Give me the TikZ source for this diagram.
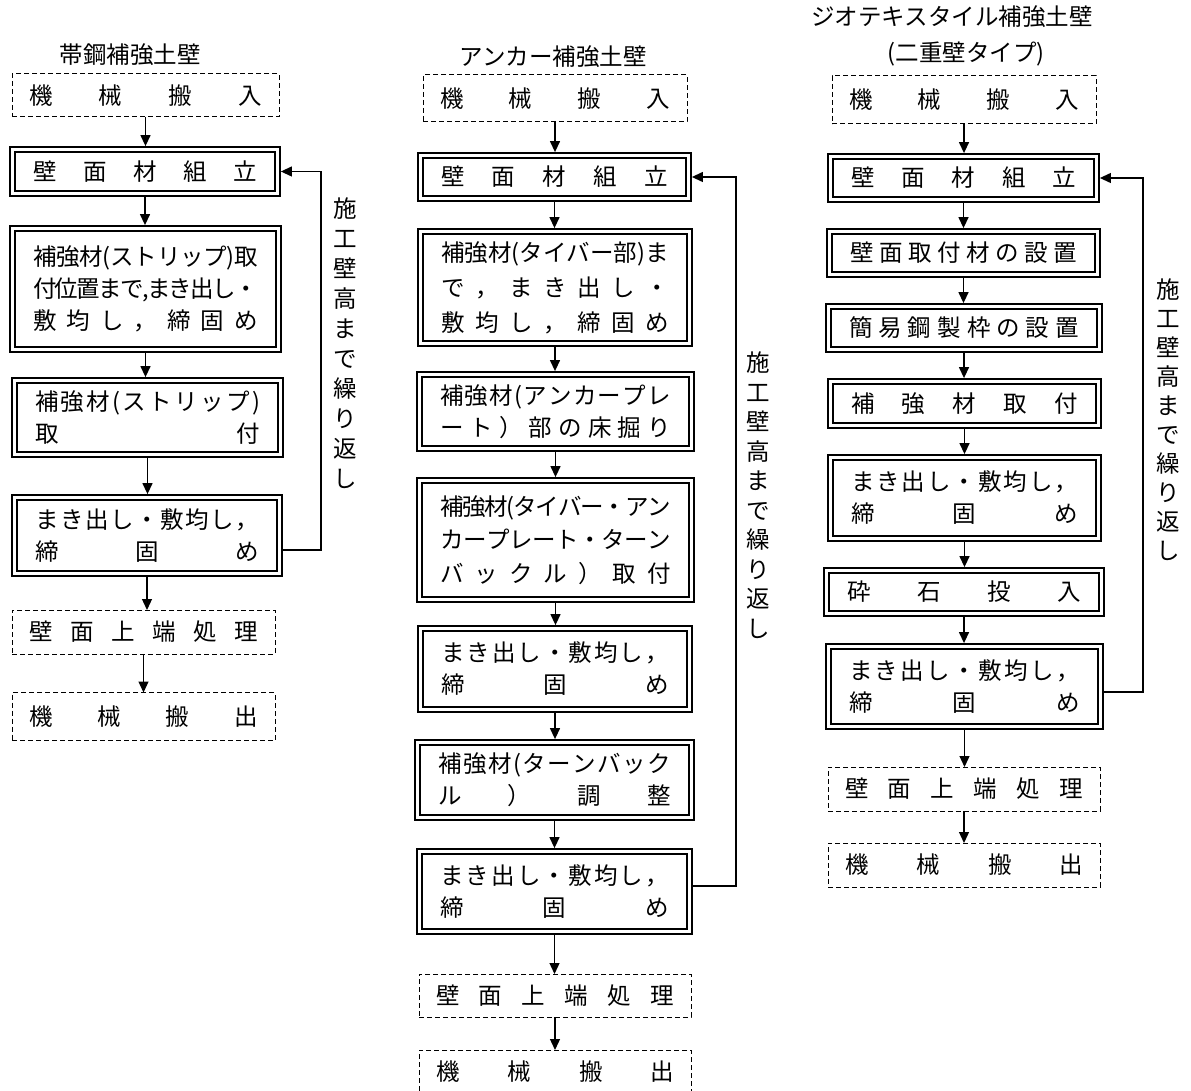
\documentclass[tikz,border=0pt]{standalone}
\usepackage{fontspec}
\setmainfont{Noto Sans CJK JP}
\usetikzlibrary{arrows.meta,calc}
\ExplSyntaxOn
\NewDocumentCommand \SL { m m }
  {
    \hbox_to_wd:nn { #1 }
      {
        \bool_set_true:N \l_tmpa_bool
        \tl_map_inline:nn { #2 }
          {
            \bool_if:NF \l_tmpa_bool { \hskip 0pt plus 1fil minus 3pt }
            \bool_set_false:N \l_tmpa_bool
            ##1
          }
      }
  }
\ExplSyntaxOff
\tikzset{
  dbox/.style={draw, double, line width=2.2pt, double distance=2.4pt,
    inner sep=0pt, outer sep=0pt, align=center,
    font={\fontsize{23.5pt}{32pt}\selectfont}},
  dashbox/.style={draw, dash pattern=on 5pt off 3pt, line width=1pt,
    inner sep=0pt, outer sep=0pt, align=center,
    font={\fontsize{23.5pt}{32pt}\selectfont}},
  ttl/.style={inner sep=0pt, font={\fontsize{23.5pt}{28pt}\selectfont}},
  vtxt/.style={inner sep=0pt, align=center},
  arr/.style={line width=1.3pt, -{Triangle[length=11pt,width=10pt]}},
  fbk/.style={line width=1.2pt, -{Triangle[length=11pt,width=10pt]}},
  sd/.style={shorten <=3.4pt},
  ed/.style={shorten >=3.4pt},
}
\begin{document}
\begin{tikzpicture}[x=1pt,y=-1pt]
\fill[white] (0,0) rectangle (1191,1091);
\useasboundingbox (0,0) rectangle (1191,1091);
\clip (0,0) rectangle (1191,1091);

% ---------- Column 1 ----------
\node[ttl] (t1) at (130,55) {帯鋼補強土壁};
\node[dashbox, minimum width=267pt, minimum height=43pt] (a1) at (145.5,95.5) {\SL{233pt}{機械搬入}};
\node[dbox, minimum width=265pt, minimum height=44pt] (b1) at (145,171.5) {\SL{224pt}{壁面材組立}};
\node[dbox, minimum width=266pt, minimum height=121pt] (c1) at (145.5,289)
  {\SL{225pt}{補強材(ストリップ)取}\\\SL{225pt}{付位置まで,まき出し・}\\\SL{225pt}{敷均し，締固め}};
\node[dbox, minimum width=266pt, minimum height=74pt] (d1) at (147.5,417.5)
  {\SL{225pt}{補強材(ストリップ)}\\\SL{225pt}{取付}};
\node[dbox, minimum width=265pt, minimum height=76pt] (e1) at (147,535.5)
  {\SL{224pt}{まき出し・敷均し，}\\\SL{224pt}{締固め}};
\node[dashbox, minimum width=263pt, minimum height=44pt] (f1) at (143.5,632) {\SL{229pt}{壁面上端処理}};
\node[dashbox, minimum width=263pt, minimum height=48pt] (g1) at (143.5,716.5) {\SL{229pt}{機械搬出}};
\node[vtxt, font={\fontsize{23.5pt}{30pt}\selectfont}] (v1) at (345,343)
  {施\\工\\壁\\高\\ま\\で\\繰\\り\\返\\し};

\draw[arr,ed] (a1.south) -- (a1.south |- b1.north);
\draw[arr,sd,ed] (b1.south) -- (b1.south |- c1.north);
\draw[arr,sd,ed] (c1.south) -- (c1.south |- d1.north);
\draw[arr,sd,ed] (d1.south) -- (d1.south |- e1.north);
\draw[arr,sd] (e1.south) -- (e1.south |- f1.north);
\draw[arr] (f1.south) -- (f1.south |- g1.north);
\coordinate (r1) at (321,0);
\draw[fbk,sd,ed] ($(e1.east)+(0,14.5)$) -| (r1 |- b1.east) -- (b1.east);

% ---------- Column 2 ----------
\node[ttl] (t2) at (553,57) {アンカー補強土壁};
\node[dashbox, minimum width=264pt, minimum height=47pt] (a2) at (555,98.5) {\SL{230pt}{機械搬入}};
\node[dbox, minimum width=268pt, minimum height=43pt] (b2) at (554.5,177) {\SL{227pt}{壁面材組立}};
\node[dbox, minimum width=269pt, minimum height=112pt, font={\fontsize{23.5pt}{35pt}\selectfont}] (c2) at (555,287.5)
  {\SL{228pt}{補強材(タイバー部)ま}\\\SL{228pt}{で，まき出し・}\\\SL{228pt}{敷均し，締固め}};
\node[dbox, minimum width=272pt, minimum height=74pt] (d2) at (555.5,411.5)
  {\SL{231pt}{補強材(アンカープレ}\\\SL{231pt}{ート）部の床掘り}};
\node[dbox, minimum width=272pt, minimum height=119pt, font={\fontsize{23.5pt}{33.5pt}\selectfont}] (e2) at (555.5,540)
  {\SL{231pt}{補強材(タイバー・アン}\\\SL{231pt}{カープレート・ターン}\\\SL{231pt}{バックル）取付}};
\node[dbox, minimum width=269pt, minimum height=81pt] (f2) at (555,669)
  {\SL{228pt}{まき出し・敷均し，}\\\SL{228pt}{締固め}};
\node[dbox, minimum width=274pt, minimum height=75pt] (g2) at (554.5,780)
  {\SL{233pt}{補強材(ターンバック}\\\SL{233pt}{ル）調整}};
\node[dbox, minimum width=270pt, minimum height=80pt] (h2) at (554.5,891.5)
  {\SL{229pt}{まき出し・敷均し，}\\\SL{229pt}{締固め}};
\node[dashbox, minimum width=272pt, minimum height=43pt] (i2) at (555,995.5) {\SL{238pt}{壁面上端処理}};
\node[dashbox, minimum width=272pt, minimum height=44pt] (j2) at (555,1072) {\SL{238pt}{機械搬出}};
\node[vtxt, font={\fontsize{23.5pt}{29.5pt}\selectfont}] (v2) at (758,495)
  {施\\工\\壁\\高\\ま\\で\\繰\\り\\返\\し};

\draw[arr,ed] (a2.south) -- (a2.south |- b2.north);
\draw[arr,sd,ed] (b2.south) -- (b2.south |- c2.north);
\draw[arr,sd,ed] (c2.south) -- (c2.south |- d2.north);
\draw[arr,sd,ed] (d2.south) -- (d2.south |- e2.north);
\draw[arr,sd,ed] (e2.south) -- (e2.south |- f2.north);
\draw[arr,sd,ed] (f2.south) -- (f2.south |- g2.north);
\draw[arr,sd,ed] (g2.south) -- (g2.south |- h2.north);
\draw[arr,sd] (h2.south) -- (h2.south |- i2.north);
\draw[arr] (i2.south) -- (i2.south |- j2.north);
\coordinate (r2) at (736,0);
\draw[fbk,sd,ed] ($(h2.east)+(0,-5.5)$) -| (r2 |- b2.east) -- (b2.east);

% ---------- Column 3 ----------
\node[ttl] (t3a) at (952,17) {ジオテキスタイル補強土壁};
\node[ttl] (t3b) at (966,54) {(二重壁タイプ)};
\node[dashbox, minimum width=264pt, minimum height=48pt] (a3) at (964,100) {\SL{230pt}{機械搬入}};
\node[dbox, minimum width=266pt, minimum height=43pt] (b3) at (963.5,178) {\SL{225pt}{壁面材組立}};
\node[dbox, minimum width=268pt, minimum height=43pt] (c3) at (963.5,253) {\SL{227pt}{壁面取付材の設置}};
\node[dbox, minimum width=271pt, minimum height=43pt] (d3) at (964,328) {\SL{230pt}{簡易鋼製枠の設置}};
\node[dbox, minimum width=268pt, minimum height=44pt] (e3) at (964.5,403.5) {\SL{227pt}{補強材取付}};
\node[dbox, minimum width=268pt, minimum height=81pt] (f3) at (964.5,498)
  {\SL{227pt}{まき出し・敷均し，}\\\SL{227pt}{締固め}};
\node[dbox, minimum width=275pt, minimum height=43pt] (g3) at (964,592) {\SL{234pt}{砕石投入}};
\node[dbox, minimum width=272pt, minimum height=80pt] (h3) at (964.5,686.5)
  {\SL{231pt}{まき出し・敷均し，}\\\SL{231pt}{締固め}};
\node[dashbox, minimum width=272pt, minimum height=44pt] (i3) at (964,789) {\SL{238pt}{壁面上端処理}};
\node[dashbox, minimum width=272pt, minimum height=44pt] (j3) at (964,865) {\SL{238pt}{機械搬出}};
\node[vtxt, font={\fontsize{23.5pt}{29pt}\selectfont}] (v3) at (1168,420)
  {施\\工\\壁\\高\\ま\\で\\繰\\り\\返\\し};

\draw[arr,ed] (a3.south) -- (a3.south |- b3.north);
\draw[arr,sd,ed] (b3.south) -- (b3.south |- c3.north);
\draw[arr,sd,ed] (c3.south) -- (c3.south |- d3.north);
\draw[arr,sd,ed] (d3.south) -- (d3.south |- e3.north);
\draw[arr,sd,ed] (e3.south) -- (e3.south |- f3.north);
\draw[arr,sd,ed] (f3.south) -- (f3.south |- g3.north);
\draw[arr,sd,ed] (g3.south) -- (g3.south |- h3.north);
\draw[arr,sd] (h3.south) -- (h3.south |- i3.north);
\draw[arr] (i3.south) -- (i3.south |- j3.north);
\coordinate (r3) at (1143,0);
\draw[fbk,sd,ed] ($(h3.east)+(0,5.5)$) -| (r3 |- b3.east) -- (b3.east);
\end{tikzpicture}
\end{document}
